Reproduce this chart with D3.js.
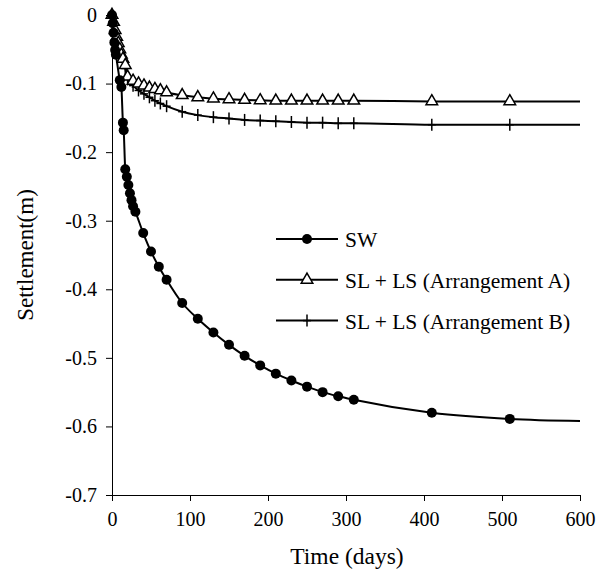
<!DOCTYPE html>
<html lang="en">
<head>
    <meta charset="UTF-8">
    <title>Settlement vs time</title>
    <style>
        body { margin: 0; background: #fff; }
        svg text { font-family: "Liberation Serif", "Times New Roman", serif; fill: #000; }
        .axis path, .axis line { stroke: #000; stroke-width: 1px; }
    </style>
</head>
<body>
    <svg></svg>
    <script src="https://d3js.org/d3.v7.min.js"></script>
    <script>
// data (time in days, settlement in m)
let swTime = [0, 1, 2, 3, 4, 5, 10, 12, 14, 15, 17, 19, 21, 23, 25, 27, 30, 40, 50, 60, 70,
    90, 110, 130, 150, 170, 190, 210, 230, 250, 270, 290, 310, 410, 510];
let swVal = [0, -0.012, -0.026, -0.04, -0.051, -0.058, -0.095, -0.105, -0.157, -0.168, -0.225, -0.236,
    -0.248, -0.26, -0.27, -0.279, -0.287, -0.318, -0.345, -0.367, -0.386,
    -0.42, -0.443, -0.463, -0.481, -0.497, -0.511, -0.523, -0.533, -0.542, -0.55, -0.556, -0.561, -0.58, -0.589];

let aTime = [0, 2, 4, 6, 8, 10, 12, 14, 17, 20, 27, 34, 41, 48, 55, 62, 70,
    90, 110, 130, 150, 170, 190, 210, 230, 250, 270, 290, 310, 410, 510];
let aVal = [0, -0.01, -0.022, -0.032, -0.041, -0.05, -0.058, -0.064, -0.073, -0.09, -0.096, -0.1, -0.103,
    -0.106, -0.108, -0.11, -0.113,
    -0.117, -0.12, -0.122, -0.123, -0.124, -0.1245, -0.125, -0.125, -0.125, -0.125, -0.125, -0.125, -0.126, -0.126];

let bTime = aTime;
let bVal = [0, -0.012, -0.026, -0.036, -0.045, -0.053, -0.061, -0.068, -0.078, -0.094, -0.103, -0.11, -0.115,
    -0.12, -0.125, -0.129, -0.133,
    -0.141, -0.146, -0.149, -0.151, -0.153, -0.154, -0.155, -0.156, -0.157, -0.157, -0.158, -0.158, -0.16, -0.16];

// the curves carry on past the last marker to the end of the axis
let tailTime = 600;
let tailVal = { sw: -0.592, a: -0.126, b: -0.16 };

let xTicks = [0, 100, 200, 300, 400, 500, 600];
let yTicks = [0, -0.1, -0.2, -0.3, -0.4, -0.5, -0.6, -0.7];

let seriesNames = ["SW", "SL + LS (Arrangement A)", "SL + LS (Arrangement B)"];

let serif = "'Liberation Serif', 'Times New Roman', serif";

let width = 604, height = 579;
let svg = d3.select("svg").attr("width", width).attr("height", height);

let x = d3.scaleLinear().domain([0, 600]).range([112, 580]);
let y = d3.scaleLinear().domain([0, -0.7]).range([15, 495]);

svg.append("g")
    .attr("class", "axis")
    .attr("transform", "translate(0,495)")
    .call(d3.axisBottom(x).tickValues(xTicks).tickSize(6).tickSizeOuter(0).tickPadding(11).tickFormat(d3.format("d")))
    .attr("font-family", serif).attr("font-size", 20);

svg.append("g")
    .attr("class", "axis")
    .attr("transform", "translate(112,0)")
    .call(d3.axisLeft(y).tickValues(yTicks).tickSize(6).tickSizeOuter(0).tickPadding(9)
        .tickFormat(d => d === 0 ? "0" : d.toFixed(1)))
    .attr("font-family", serif).attr("font-size", 20);

svg.selectAll(".axis .domain").attr("stroke", "#000");

// axis titles
svg.append("text")
    .attr("x", 347).attr("y", 564)
    .attr("text-anchor", "middle")
    .attr("font-family", serif)
    .style("font-size", "23.5px")
    .text("Time (days)");

svg.append("text")
    .attr("transform", "translate(33,255) rotate(-90)")
    .attr("text-anchor", "middle")
    .attr("font-family", serif)
    .style("font-size", "23px")
    .text("Settlement(m)");

let line = d3.line()
    .x(d => x(d[0]))
    .y(d => y(d[1]))
    .curve(d3.curveMonotoneX);

function pts(ts, vs) {
    return ts.map((t, i) => [t, vs[i]]);
}

let sw = pts(swTime, swVal);
let sa = pts(aTime, aVal);
let sb = pts(bTime, bVal);

let plot = svg.append("g");

[[sw, tailVal.sw], [sa, tailVal.a], [sb, tailVal.b]].forEach(([p, tail]) => {
    plot.append("path")
        .attr("d", line(p.concat([[tailTime, tail]])))
        .attr("fill", "none")
        .attr("stroke", "#000")
        .attr("stroke-width", 2);
});

// markers
let tri = d3.symbol().type(d3.symbolTriangle).size(58);

function crossMark(g) {
    g.append("line").attr("x1", -4).attr("x2", 4).attr("y1", 0).attr("y2", 0);
    g.append("line").attr("x1", 0).attr("x2", 0).attr("y1", -6).attr("y2", 6);
    g.selectAll("line").attr("stroke", "#000").attr("stroke-width", 1.5);
}

plot.selectAll(".cross")
    .data(sb)
    .enter()
    .append("g")
    .attr("class", "cross")
    .attr("transform", d => `translate(${x(d[0])},${y(d[1])})`)
    .each(function () { crossMark(d3.select(this)); });

plot.selectAll(".tri")
    .data(sa)
    .enter()
    .append("path")
    .attr("class", "tri")
    .attr("d", tri)
    .attr("transform", d => `translate(${x(d[0])},${y(d[1])})`)
    .attr("fill", "#fff")
    .attr("stroke", "#000")
    .attr("stroke-width", 1.5);

plot.selectAll(".dot")
    .data(sw)
    .enter()
    .append("circle")
    .attr("class", "dot")
    .attr("cx", d => x(d[0]))
    .attr("cy", d => y(d[1]))
    .attr("r", 5)
    .attr("fill", "#000");

// legend
let legend = svg.append("g").attr("transform", "translate(276,239)");
seriesNames.forEach((name, i) => {
    let row = legend.append("g").attr("transform", `translate(0,${i * 40.8})`);
    row.append("line")
        .attr("x1", 0).attr("x2", 62).attr("y1", 0).attr("y2", 0)
        .attr("stroke", "#000").attr("stroke-width", 2);
    if (i === 0) {
        row.append("circle").attr("cx", 31).attr("cy", 0).attr("r", 5).attr("fill", "#000");
    } else if (i === 1) {
        row.append("path").attr("d", tri).attr("transform", "translate(31,0)")
            .attr("fill", "#fff").attr("stroke", "#000").attr("stroke-width", 1.5);
    } else {
        crossMark(row.append("g").attr("transform", "translate(31,0)"));
    }
    row.append("text")
        .attr("x", 69).attr("y", 8)
        .attr("font-family", serif)
        .style("font-size", "21.5px")
        .text(name);
});
    </script>
</body>
</html>
